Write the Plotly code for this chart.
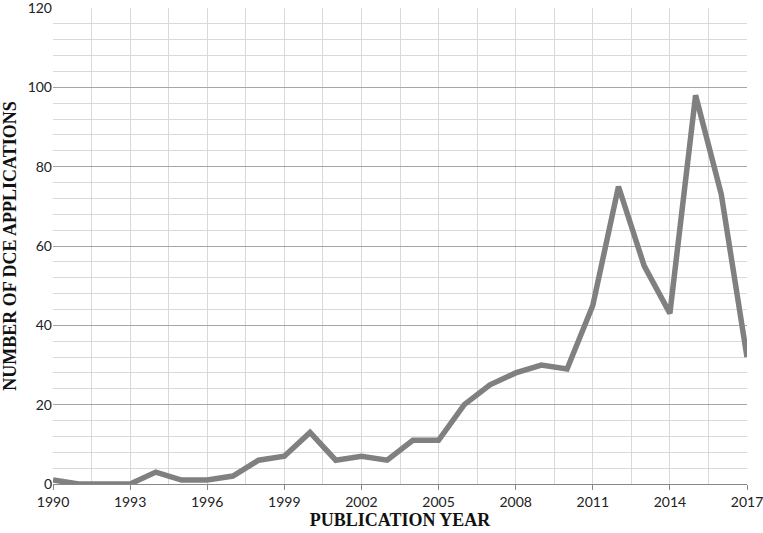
import plotly.graph_objects as go

years = list(range(1990, 2018))
applications = [1, 0, 0, 0, 3, 1, 1, 2, 6, 7, 13, 6, 7, 6, 11, 11, 20, 25, 28, 30, 29, 45, 75, 55, 43, 98, 73, 32]

x_tick_vals = list(range(1990, 2018, 3))
x_tick_text = [str(v) for v in x_tick_vals]
y_tick_vals = [0, 20, 40, 60, 80, 100, 120]
y_tick_text = [str(v) for v in y_tick_vals]

fig = go.Figure()
fig.add_trace(go.Scatter(
    x=years, y=applications, mode="lines",
    line=dict(color="#808080", width=5.5),
    showlegend=False, hoverinfo="x+y", cliponaxis=True
))

tick_font = dict(family="Lato, 'Open Sans', sans-serif", size=14, color="#222222")
title_font = dict(family="'Liberation Serif', 'Times New Roman', serif", size=18, color="#111111")

fig.update_layout(
    width=763, height=533,
    margin=dict(l=53, r=16, t=8, b=49, autoexpand=False),
    paper_bgcolor="white", plot_bgcolor="white",
    xaxis=dict(
        range=[1990, 2017.0001],
        tickmode="array", tickvals=x_tick_vals, ticktext=x_tick_text,
        showgrid=True, gridcolor="#d9d9d9", gridwidth=1,
        minor=dict(dtick=1.5, tick0=1990, showgrid=True, gridcolor="#d9d9d9", gridwidth=1, ticks=""),
        ticks="outside", ticklen=5, tickcolor="#888888",
        showline=True, linecolor="#888888", linewidth=1,
        tickfont=tick_font, automargin=False, ticklabeloverflow="allow",
        title=dict(text="<b>PUBLICATION YEAR</b>", font=title_font, standoff=3),
        zeroline=False,
    ),
    yaxis=dict(
        range=[0, 120.0001],
        tickmode="array", tickvals=y_tick_vals, ticktext=y_tick_text,
        showgrid=True, gridcolor="#a6a6a6", gridwidth=1,
        minor=dict(dtick=4, tick0=0, showgrid=True, gridcolor="#d9d9d9", gridwidth=1),
        ticks="", showline=False,
        tickfont=tick_font, automargin=False, ticklabeloverflow="allow",
        title=dict(text="<b>NUMBER OF DCE APPLICATIONS</b>", font=title_font, standoff=6),
        zeroline=False,
    ),
)

fig.write_html("out.html", config={"displayModeBar": False},
               post_script="document.body.style.margin='0';")
